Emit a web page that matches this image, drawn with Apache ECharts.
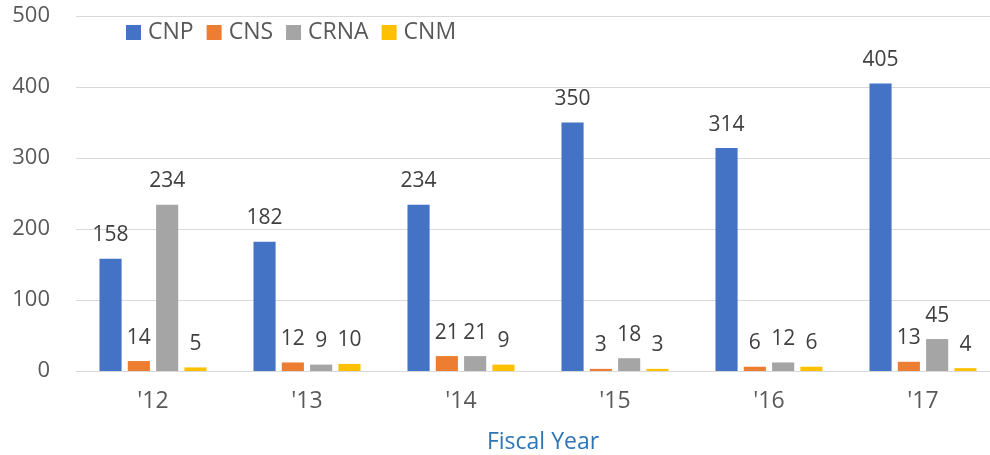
<!DOCTYPE html>
<html><head><meta charset="utf-8">
<script src="https://cdn.jsdelivr.net/npm/echarts@6/dist/echarts.min.js"></script>
<style>html,body{margin:0;padding:0;background:#fff;overflow:hidden}#c{width:990px;height:455px}</style>
</head><body><div id="c"></div>
<script>
const categories = ["'12","'13","'14","'15","'16","'17"];
const cnp = [158,182,234,350,314,405];
const cns = [14,12,21,3,6,13];
const crna = [234,9,21,18,12,45];
const cnm = [5,10,9,3,6,4];
const seriesNames = ["CNP","CNS","CRNA","CNM"];
const colors = ["#4472c4","#ed7d31","#a5a5a5","#ffc000"];
const font = "'Open Sans', 'Liberation Sans', sans-serif";
const dataSets = [cnp,cns,crna,cnm];
const chart = echarts.init(document.getElementById('c'));
chart.setOption({
  animation:false,
  textStyle:{fontFamily:font},
  grid:{left:76,right:-10,top:16,bottom:84,containLabel:false,outerBoundsMode:'none'},
  legend:{left:121,top:16,itemWidth:15,itemHeight:15,itemGap:13,icon:'rect',
    textStyle:{fontSize:23,color:'#595959',fontFamily:font,padding:[0,0,0,2]},data:seriesNames},
  xAxis:{type:'category',data:categories,
    axisLine:{lineStyle:{color:'#d9d9d9',width:1}},axisTick:{show:false},
    axisLabel:{fontSize:23,color:'#595959',margin:19,fontFamily:font},
    name:'Fiscal Year',nameLocation:'middle',nameGap:60,
    nameTextStyle:{fontSize:23,color:'#2e75b6',fontFamily:font,padding:[0,0,0,10]}},
  yAxis:{type:'value',min:0,max:500,interval:100,
    axisLine:{show:false},axisTick:{show:false},
    splitLine:{lineStyle:{color:'#d9d9d9',width:1}},
    axisLabel:{fontSize:22,color:'#595959',margin:26,fontFamily:font}},
  series:seriesNames.map((n,i)=>({
    name:n,type:'bar',data:dataSets[i],barGap:'28%',barCategoryGap:'30.5%',
    itemStyle:{color:colors[i]},
    label:{show:true,position:'top',distance:13,fontSize:21,color:'#404040',fontFamily:font}
  }))
});
</script></body></html>
